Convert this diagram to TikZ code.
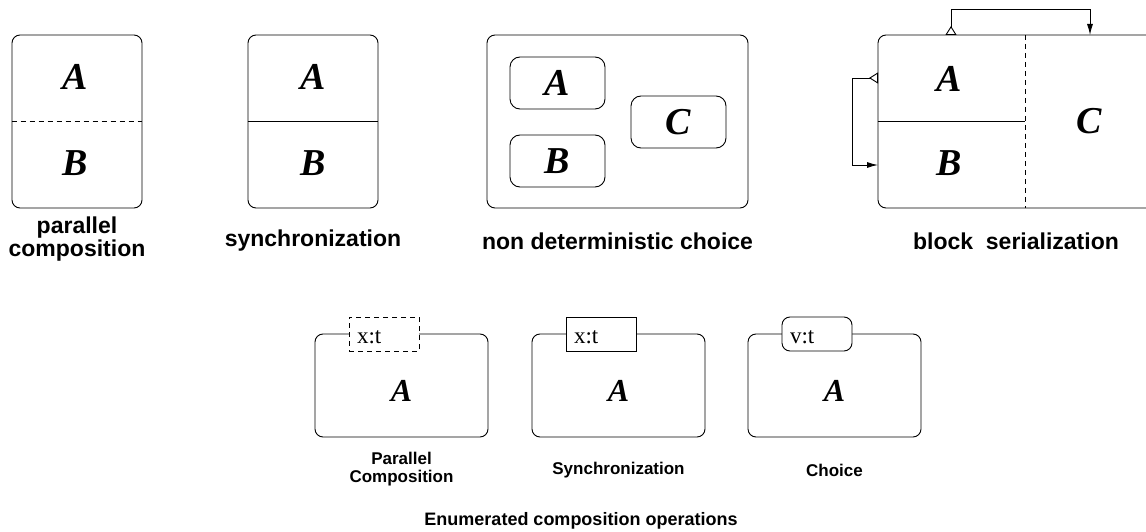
\documentclass[tikz,border=0pt]{standalone}
\usepackage{fontspec}
\setmainfont{Liberation Serif}
\setsansfont{Liberation Sans}
\usetikzlibrary{arrows.meta}
\begin{document}
\begin{tikzpicture}[x=1pt,y=-1pt,line width=0.9pt,
  lab/.style={font=\sffamily\bfseries\fontsize{23}{18}\selectfont,align=center},
  blab/.style={font=\sffamily\bfseries\fontsize{17}{18}\selectfont,align=center},
  elab/.style={font=\sffamily\bfseries\fontsize{18}{18}\selectfont,align=center},
  big/.style={font=\bfseries\itshape\fontsize{38}{38}\selectfont,inner sep=0pt},
  mid/.style={font=\bfseries\itshape\fontsize{32}{32}\selectfont,inner sep=0pt},
  box/.style={draw,rounded corners=8pt,inner sep=0pt},
  tabtxt/.style={font=\fontsize{23}{23}\selectfont,inner sep=0pt,anchor=base west},
  tabbox/.style={draw,fill=white,inner sep=0pt,minimum width=70pt,minimum height=34pt},
  dsh/.style={dash pattern=on 5pt off 4pt},
  conn/.style={{Triangle[open,reversed,length=9pt,width=11pt]}-{Latex[length=11pt,width=6pt]}}
]
\clip (0,0) rectangle (1146,532);
% parallel composition
\node[box,minimum width=130pt,minimum height=173pt] (p1) at (77,121.5) {};
\draw[dsh] (p1.west) -- (p1.east);
\node[big] (p1a) at (75,77) {A};
\node[big] (p1b) at (75,163) {B};
\node[lab] (p1l) at (77,239) {parallel\\composition};
% synchronization
\node[box,minimum width=130pt,minimum height=173pt] (s1) at (313,121.5) {};
\draw (s1.west) -- (s1.east);
\node[big] (s1a) at (313,77) {A};
\node[big] (s1b) at (313,163) {B};
\node[lab] (s1l) at (313,241) {synchronization};
% non deterministic choice
\node[box,minimum width=261pt,minimum height=173pt] (n1) at (617.5,121.5) {};
\node[box,rounded corners=10pt,minimum width=95pt,minimum height=52pt] (na) at (557.5,83) {};
\node[box,rounded corners=10pt,minimum width=95pt,minimum height=52pt] (nb) at (557.5,161) {};
\node[box,rounded corners=10pt,minimum width=95pt,minimum height=52pt] (nc) at (678.5,122) {};
\node[big] at (na) {A};
\node[big] at (nb) {B};
\node[big] at (nc) {C};
\node[lab] (n1l) at (617.5,241) {non deterministic choice};
% block serialization
\node[box,minimum width=300pt,minimum height=173pt] (b1) at (1028,121.5) {};
\coordinate (bd) at (1025,121.5);
\draw (b1.west) -- (bd);
\coordinate (bdt) at (1025,35);
\coordinate (bdb) at (1025,208);
\draw[dsh] (bdt) -- (bdb);
\node[big] (b1a) at (949,79) {A};
\node[big] (b1b) at (949,163) {B};
\node[big] (b1c) at (1089,121) {C};
\coordinate (t1) at (951,35);
\coordinate (t2) at (1090,35);
\draw[conn] (t1) -- ++(0,-26) -| (t2);
\coordinate (l1) at (878,78);
\coordinate (l2) at (878,165);
\draw[conn] (l1) -- ++(-26,0) |- (l2);
\node[lab] (b1l) at (1016,241) {block\ \ serialization};
% enumerated
\node[box,minimum width=173pt,minimum height=103pt] (ep) at (401.5,385.5) {};
\node[tabbox,dsh] (ept) at (384,334) {};
\node[tabtxt] at ([xshift=8pt,yshift=-9pt]ept.west) {x:t};
\node[mid] at (401.5,391) {A};
\node[blab] at (401.5,469) {Parallel\\Composition};
\node[box,minimum width=173pt,minimum height=103pt] (es) at (618.5,385.5) {};
\node[tabbox] (est) at (601,334) {};
\node[tabtxt] at ([xshift=8pt,yshift=-9pt]est.west) {x:t};
\node[mid] at (618.5,391) {A};
\node[blab] at (618.5,470) {Synchronization};
\node[box,minimum width=173pt,minimum height=103pt] (ec) at (834.5,385.5) {};
\node[tabbox,rounded corners=8pt] (ect) at (817,334) {};
\node[tabtxt] at ([xshift=8pt,yshift=-9pt]ect.west) {v:t};
\node[mid] at (834.5,391) {A};
\node[blab] at (834.5,470) {Choice};
\node[elab] at (581,521) {Enumerated composition operations};
\end{tikzpicture}
\end{document}
